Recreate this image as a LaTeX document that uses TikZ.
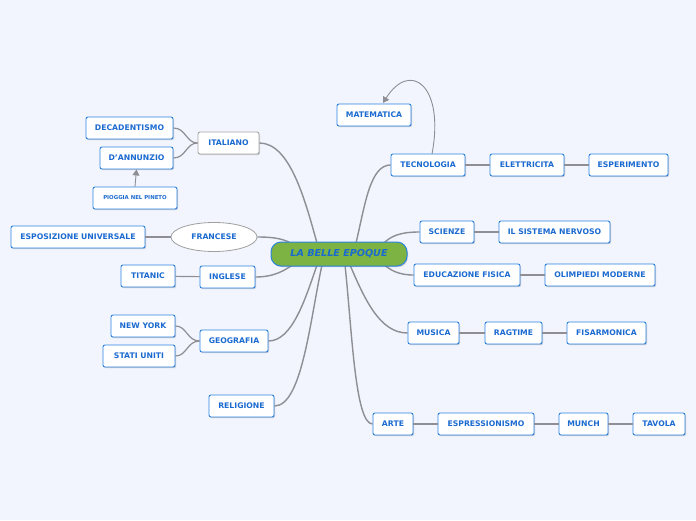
\documentclass[tikz,border=0pt]{standalone}
\usepackage{fontspec}
\setmainfont{DejaVu Sans}[BoldFont={DejaVu Sans Bold},BoldItalicFont={DejaVu Sans Bold Oblique}]
\usetikzlibrary{shapes.geometric,shadows,arrows.meta}
\definecolor{bgc}{HTML}{F2F5FE}
\definecolor{bord}{HTML}{2B83E0}
\definecolor{txt}{HTML}{1B6AD0}
\definecolor{lnc}{HTML}{8E8E94}
\definecolor{grn}{HTML}{7CB342}
\begin{document}
\begin{tikzpicture}[x=1pt,y=-1pt,
  topic/.style={draw=bord,line width=0.9pt,fill=white,rounded corners=2pt,
    minimum height=22pt,inner sep=0pt,text=txt,
    font=\fontsize{7.7}{8}\selectfont\bfseries,
    drop shadow={shadow xshift=1pt,shadow yshift=-1.2pt,opacity=0.35,fill=gray}},
  graytopic/.style={topic,draw=gray!70},
  mainln/.style={draw=lnc,line width=1.4pt},
  subln/.style={draw=lnc,line width=1.2pt},
  branchln/.style={draw=lnc,line width=0.9pt}]
\fill[bgc] (0,0) rectangle (696,520);
\useasboundingbox (0,0) rectangle (696,520);

% right side
\node[topic,minimum width=74pt] (mat) at (374,115) {MATEMATICA};
\node[topic,minimum width=74pt] (tec) at (428,165) {TECNOLOGIA};
\node[topic,minimum width=74pt] (ele) at (527,165) {ELETTRICITA};
\node[topic,minimum width=79pt] (esp) at (628.5,165) {ESPERIMENTO};
\node[topic,minimum width=54pt] (sci) at (447,232) {SCIENZE};
\node[topic,minimum width=111pt] (ner) at (554.5,232) {IL SISTEMA NERVOSO};
\node[topic,minimum width=106pt] (edu) at (467,275) {EDUCAZIONE FISICA};
\node[topic,minimum width=110pt] (oli) at (600,275) {OLIMPIEDI MODERNE};
\node[topic,minimum width=51pt] (mus) at (433.5,333) {MUSICA};
\node[topic,minimum width=57pt] (rag) at (513.5,333) {RAGTIME};
\node[topic,minimum width=79pt] (fis) at (606.5,333) {FISARMONICA};
\node[topic,minimum width=40pt] (art) at (393,424) {ARTE};
\node[topic,minimum width=96pt] (espr) at (486,424) {ESPRESSIONISMO};
\node[topic,minimum width=49pt] (mun) at (583.5,424) {MUNCH};
\node[topic,minimum width=52pt] (tav) at (659,424) {TAVOLA};

% left side
\node[graytopic,minimum width=61pt] (ita) at (228.5,143) {ITALIANO};
\node[topic,minimum width=87pt] (dec) at (129.5,128) {DECADENTISMO};
\node[topic,minimum width=73pt] (dan) at (136.5,158) {D'ANNUNZIO};
\node[topic,minimum width=84pt,font=\fontsize{5.4}{6}\selectfont\bfseries] (pio) at (135,198) {PIOGGIA NEL PINETO};
\node[draw=gray!75,line width=0.8pt,fill=white,ellipse,minimum width=86pt,minimum height=29pt,inner sep=0pt,
  text=txt,font=\fontsize{7.7}{8}\selectfont\bfseries] (fra) at (214,237) {FRANCESE};
\node[topic,minimum width=134pt] (espo) at (78,237) {ESPOSIZIONE UNIVERSALE};
\node[topic,minimum width=55pt] (ing) at (227.5,277) {INGLESE};
\node[topic,minimum width=54pt] (tit) at (148,276) {TITANIC};
\node[topic,minimum width=68pt] (geo) at (234,341) {GEOGRAFIA};
\node[topic,minimum width=64pt] (ny) at (143,326) {NEW YORK};
\node[topic,minimum width=72pt] (su) at (139,356) {STATI UNITI};
\node[topic,minimum width=65pt] (rel) at (241.5,406) {RELIGIONE};

% attachment points on center
\coordinate (cITA) at (317,243);
\coordinate (cFRA) at (294,245);
\coordinate (cING) at (294,264);
\coordinate (cGEO) at (317,265);
\coordinate (cREL) at (322,265);
\coordinate (cTEC) at (356,243);
\coordinate (cSCI) at (382,245);
\coordinate (cEDU) at (382,263);
\coordinate (cMUS) at (350,265);
\coordinate (cART) at (345,265);

% main branches
\path[mainln] (ita.east) .. controls (290,143) and (305,200) .. (cITA);
\path[mainln] (fra.east) .. controls (275,237) and (285,239) .. (cFRA);
\path[mainln] (ing.east) .. controls (275,277) and (285,270) .. (cING);
\path[mainln] (geo.east) .. controls (292,341) and (305,300) .. (cGEO);
\path[mainln] (rel.east) .. controls (302,406) and (310,320) .. (cREL);
\path[mainln] (tec.west) .. controls (370,165) and (365,205) .. (cTEC);
\path[mainln] (sci.west) .. controls (400,232) and (390,236) .. (cSCI);
\path[mainln] (edu.west) .. controls (398,275) and (390,270) .. (cEDU);
\path[mainln] (mus.west) .. controls (380,333) and (365,300) .. (cMUS);
\path[mainln] (art.west) .. controls (355,424) and (352,330) .. (cART);

% sub branches
\path[subln] (tec) -- (ele);
\path[subln] (ele) -- (esp);
\path[subln] (sci) -- (ner);
\path[subln] (edu) -- (oli);
\path[subln] (mus) -- (rag);
\path[subln] (rag) -- (fis);
\path[subln] (art) -- (espr);
\path[subln] (espr) -- (mun);
\path[subln] (mun) -- (tav);
\path[subln] (espo) -- (fra);
\path[subln] (tit) -- (ing);
\path[subln] (ita.west) .. controls (186,143) and (186,128) .. (dec.east);
\path[subln] (ita.west) .. controls (186,143) and (186,158) .. (dan.east);
\path[subln] (geo.west) .. controls (187,341) and (187,326) .. (ny.east);
\path[subln] (geo.west) .. controls (187,341) and (187,356) .. (su.east);

% arrows
\draw[branchln,-{Triangle[length=6pt,width=7pt]}] (pio.north) -- (dan.south);
\coordinate (tecTop) at (432,154);
\coordinate (matEnd) at (383,103);
\draw[branchln,-{Triangle[length=6pt,width=7pt]}] (tecTop) .. controls (445,85) and (410,60) .. (matEnd);

% center
\node[draw=bord,line width=1pt,fill=grn,rounded corners=10pt,minimum width=136pt,minimum height=24pt,
  text=txt,font=\fontsize{9.6}{10}\selectfont\bfseries\itshape,
  drop shadow={shadow xshift=1pt,shadow yshift=-1.2pt,opacity=0.35,fill=gray}] (c) at (339,254) {LA BELLE EPOQUE};
\end{tikzpicture}
\end{document}
